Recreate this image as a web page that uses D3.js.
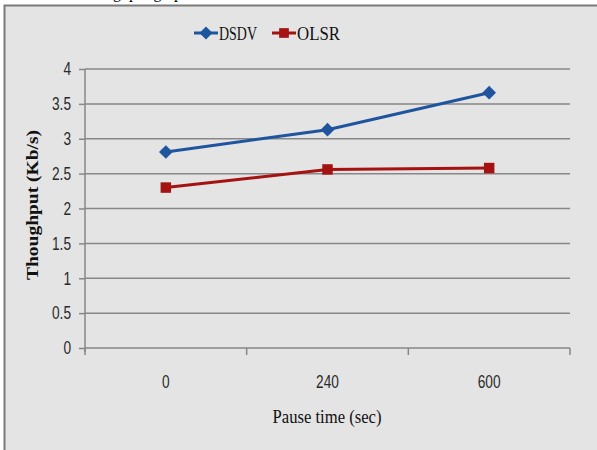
<!DOCTYPE html>
<html><head><meta charset="utf-8">
<script src="https://cdn.jsdelivr.net/npm/d3@7"></script>
<style>body{margin:0;background:#fff}svg{display:block}</style>
</head><body>
<script>
const categories = ["0", "240", "600"];
const dsdv = [2.81, 3.13, 3.66];
const olsr = [2.30, 2.56, 2.58];
const yTicks = [0, 0.5, 1, 1.5, 2, 2.5, 3, 3.5, 4];
const seriesNames = ["DSDV", "OLSR"];
const colors = ["#1f559f", "#a51212"];

const W = 597, H = 450;
const svg = d3.select("body").append("svg").attr("width", W).attr("height", H);

// clipped caption text above the chart
svg.append("text").attr("x", 190).attr("y", -2).attr("text-anchor", "end")
  .attr("font-family", "Liberation Serif").attr("font-size", 16).text("Throughput graph");

svg.append("rect").attr("x", 4.5).attr("y", 5.5).attr("width", 600).attr("height", 450)
  .attr("fill", "#e4e4e4").attr("stroke", "#7a7a7a").attr("stroke-width", 2);

const m = {l: 85, r: 570, t: 69, b: 348};
const x = d3.scaleBand().domain(categories).range([m.l, m.r]);
const y = d3.scaleLinear().domain([0, 4]).range([m.b, m.t]);

// gridlines
svg.append("g").selectAll("line").data(yTicks.filter(d => d > 0)).join("line")
  .attr("x1", m.l).attr("x2", m.r).attr("y1", d => y(d)).attr("y2", d => y(d))
  .attr("stroke", "#878787").attr("stroke-width", 1.5);

const yAxis = svg.append("g").attr("transform", `translate(${m.l},0)`)
  .call(d3.axisLeft(y).tickValues(yTicks).tickSize(6).tickPadding(8).tickFormat(d3.format("")));
const xAxis = svg.append("g").attr("transform", `translate(0,${m.b})`)
  .call(d3.axisBottom(x).tickSize(0).tickPadding(27));
// x tick marks at band boundaries
svg.append("g").selectAll("line").data([...categories.map(c => x(c)), m.r]).join("line")
  .attr("x1", d => d).attr("x2", d => d).attr("y1", m.b).attr("y2", m.b + 7)
  .attr("stroke", "#878787").attr("stroke-width", 1.5);

[yAxis, xAxis].forEach(g => {
  g.selectAll("path,line").attr("stroke", "#878787").attr("stroke-width", 1.5);
  g.selectAll("text").attr("font-family", "Liberation Sans, Arial").attr("font-size", 18)
    .attr("fill", "#2a2a2a")
    .each(function () {
      const w = this.getComputedTextLength();
      d3.select(this).attr("textLength", w * 0.76).attr("lengthAdjust", "spacingAndGlyphs");
    });
});
yAxis.select(".domain").attr("d", `M0,${m.t}V${m.b + 4}`);
xAxis.select(".domain").attr("d", `M${m.l},0H${m.r}`);

// axis titles
svg.append("text").attr("transform", `translate(38,205) rotate(-90)`).attr("text-anchor", "middle")
  .attr("font-family", "Liberation Serif").attr("font-weight", "bold").attr("font-size", 17)
  .attr("textLength", 150).attr("lengthAdjust", "spacingAndGlyphs")
  .attr("fill", "#111").text("Thoughput (Kb/s)");
svg.append("text").attr("x", 327).attr("y", 423).attr("text-anchor", "middle")
  .attr("font-family", "Liberation Serif").attr("font-size", 18)
  .attr("textLength", 109).attr("lengthAdjust", "spacingAndGlyphs")
  .attr("fill", "#111").text("Pause time (sec)");

const cx = d => x(d) + x.bandwidth() / 2;
const line = d3.line().x(d => cx(d.c)).y(d => y(d.v));
const seriesData = [dsdv, olsr].map(arr => arr.map((v, i) => ({c: categories[i], v})));

seriesData.forEach((data, si) => {
  svg.append("path").datum(data).attr("d", line).attr("fill", "none")
    .attr("stroke", colors[si]).attr("stroke-width", 3);
  const sym = si === 0 ? d3.symbolDiamond2 : d3.symbolSquare2;
  const size = si === 0 ? 120 : 140;
  svg.append("g").selectAll("path").data(data).join("path")
    .attr("transform", d => `translate(${cx(d.c)},${y(d.v)})`)
    .attr("d", d3.symbol(sym, size)).attr("fill", colors[si]);
});

// legend
const legX = [194, 272];
seriesNames.forEach((n, i) => {
  const g = svg.append("g").attr("transform", `translate(${legX[i]},33)`);
  g.append("line").attr("x1", 0).attr("x2", 24).attr("stroke", colors[i]).attr("stroke-width", 3);
  g.append("path").attr("transform", "translate(12,0)")
    .attr("d", d3.symbol(i === 0 ? d3.symbolDiamond2 : d3.symbolSquare2, i === 0 ? 110 : 120)).attr("fill", colors[i]);
  g.append("text").attr("x", 25).attr("y", 7).attr("font-family", "Liberation Serif")
    .attr("font-size", 19).attr("fill", "#111").attr("textLength", i === 0 ? 38 : 43)
    .attr("lengthAdjust", "spacingAndGlyphs").text(n);
});
</script>
</body></html>
